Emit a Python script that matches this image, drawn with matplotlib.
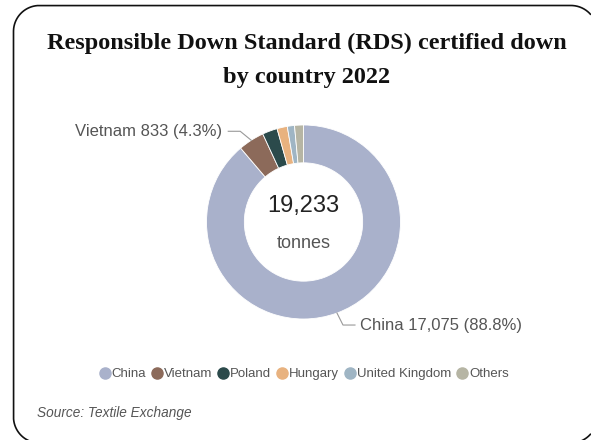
import matplotlib
matplotlib.use("Agg")
import matplotlib.pyplot as plt
from matplotlib.lines import Line2D
import numpy as np

categories = ["China", "Vietnam", "Poland", "Hungary", "United Kingdom", "Others"]
values = [17075, 833, 480, 330, 230, 285]
colors = ["#a9b1cb", "#8c6a5a", "#2b4a4b", "#e8b27f", "#9fb5c4", "#b6b5a4"]
total_label = "19,233"
unit_label = "tonnes"
title_lines = ["Responsible Down Standard (RDS) certified down", "by country 2022"]
source = "Source: Textile Exchange"

W, H = 591, 440
fig = plt.figure(figsize=(W / 100, H / 100), dpi=100)

# background axes in pixel units for the rounded frame
bg = fig.add_axes([0, 0, 1, 1])
bg.set_xlim(0, W)
bg.set_ylim(H, 0)
bg.axis("off")
fx0, fx1, fy0, fy1, rr = 13.5, 597.0, 5.5, 443.0, 26.0

def arc(ccx, ccy, a0, a1):
    t = np.deg2rad(np.linspace(a0, a1, 40))
    return np.column_stack([ccx + rr * np.cos(t), ccy + rr * np.sin(t)])

# open path: the right side lies beyond the canvas
pts = np.vstack([
    arc(fx1 - rr, fy0 + rr, 320, 270),   # top-right (partial)
    arc(fx0 + rr, fy0 + rr, 270, 180),   # top-left
    arc(fx0 + rr, fy1 - rr, 180, 90),    # bottom-left
    arc(fx1 - rr, fy1 - rr, 90, 40),     # bottom-right (partial)
])
bg.plot(pts[:, 0], pts[:, 1], color="#111111", lw=1.2, clip_on=False,
        solid_joinstyle="round", solid_capstyle="butt")

tx = 307 / W
fig.text(tx, 1 - 43 / H, title_lines[0], ha="center", va="center",
         fontsize=17.5, fontweight="bold", family="Liberation Serif", color="#111111")
fig.text(tx, 1 - 78 / H, title_lines[1], ha="center", va="center",
         fontsize=17.5, fontweight="bold", family="Liberation Serif", color="#111111")

cx, cy, R = 303.5, 222, 97
ax = fig.add_axes([(cx - R) / W, (H - cy - R) / H, 2 * R / W, 2 * R / H])
ax.pie(values, colors=colors, startangle=90, counterclock=False, radius=1,
       wedgeprops=dict(width=0.39, edgecolor="white", linewidth=0.6))
ax.set_xlim(-1, 1)
ax.set_ylim(-1, 1)
ax.axis("off")

ax.text(0, 0.17, total_label, ha="center", va="center", fontsize=17,
        family="Liberation Sans", color="#222222")
ax.text(0, -0.22, unit_label, ha="center", va="center", fontsize=13,
        family="Liberation Sans", color="#555555")

tot = sum(values)
cum = np.cumsum([0] + values)
lab_color = "#555555"

def mid_point(i):
    a = np.deg2rad(90 - 360 * (cum[i] + values[i] / 2) / tot)
    return np.cos(a), np.sin(a)

# China label
x0, y0 = mid_point(0)
y1 = y0 - 12 / R
ax.plot([x0, x0 + 6 / R, x0 + 18 / R], [y0, y1, y1], color="#999999", lw=0.8, clip_on=False)
ax.text(x0 + 23 / R, y1, f"{categories[0]} {values[0]:,} ({values[0] / tot * 100:.1f}%)",
        ha="left", va="center", fontsize=12, family="Liberation Sans", color=lab_color)

# Vietnam label
x0, y0 = mid_point(1)
y1 = y0 + 9 / R
ax.plot([x0, x0 - 11 / R, x0 - 23 / R], [y0, y1, y1], color="#999999", lw=0.8, clip_on=False)
ax.text(x0 - 29 / R, y1, f"{categories[1]} {values[1]:,} ({values[1] / tot * 100:.1f}%)",
        ha="right", va="center", fontsize=12, family="Liberation Sans", color=lab_color)

handles = [Line2D([], [], marker="o", linestyle="", markersize=8, markerfacecolor=c,
                  markeredgecolor=c) for c in colors]
fig.legend(handles, categories, loc="center", bbox_to_anchor=(cx / W, 1 - 374 / H), ncol=6,
           frameon=False, handletextpad=0.0, columnspacing=0.35, handlelength=1.0,
           prop=dict(family="Liberation Sans", size=9.5), labelcolor="#555555")

fig.text(37 / W, 1 - 413 / H, source, ha="left", va="center", fontsize=9.8,
         style="italic", family="Liberation Sans", color="#555555")

fig.savefig("out.png", dpi=100)
